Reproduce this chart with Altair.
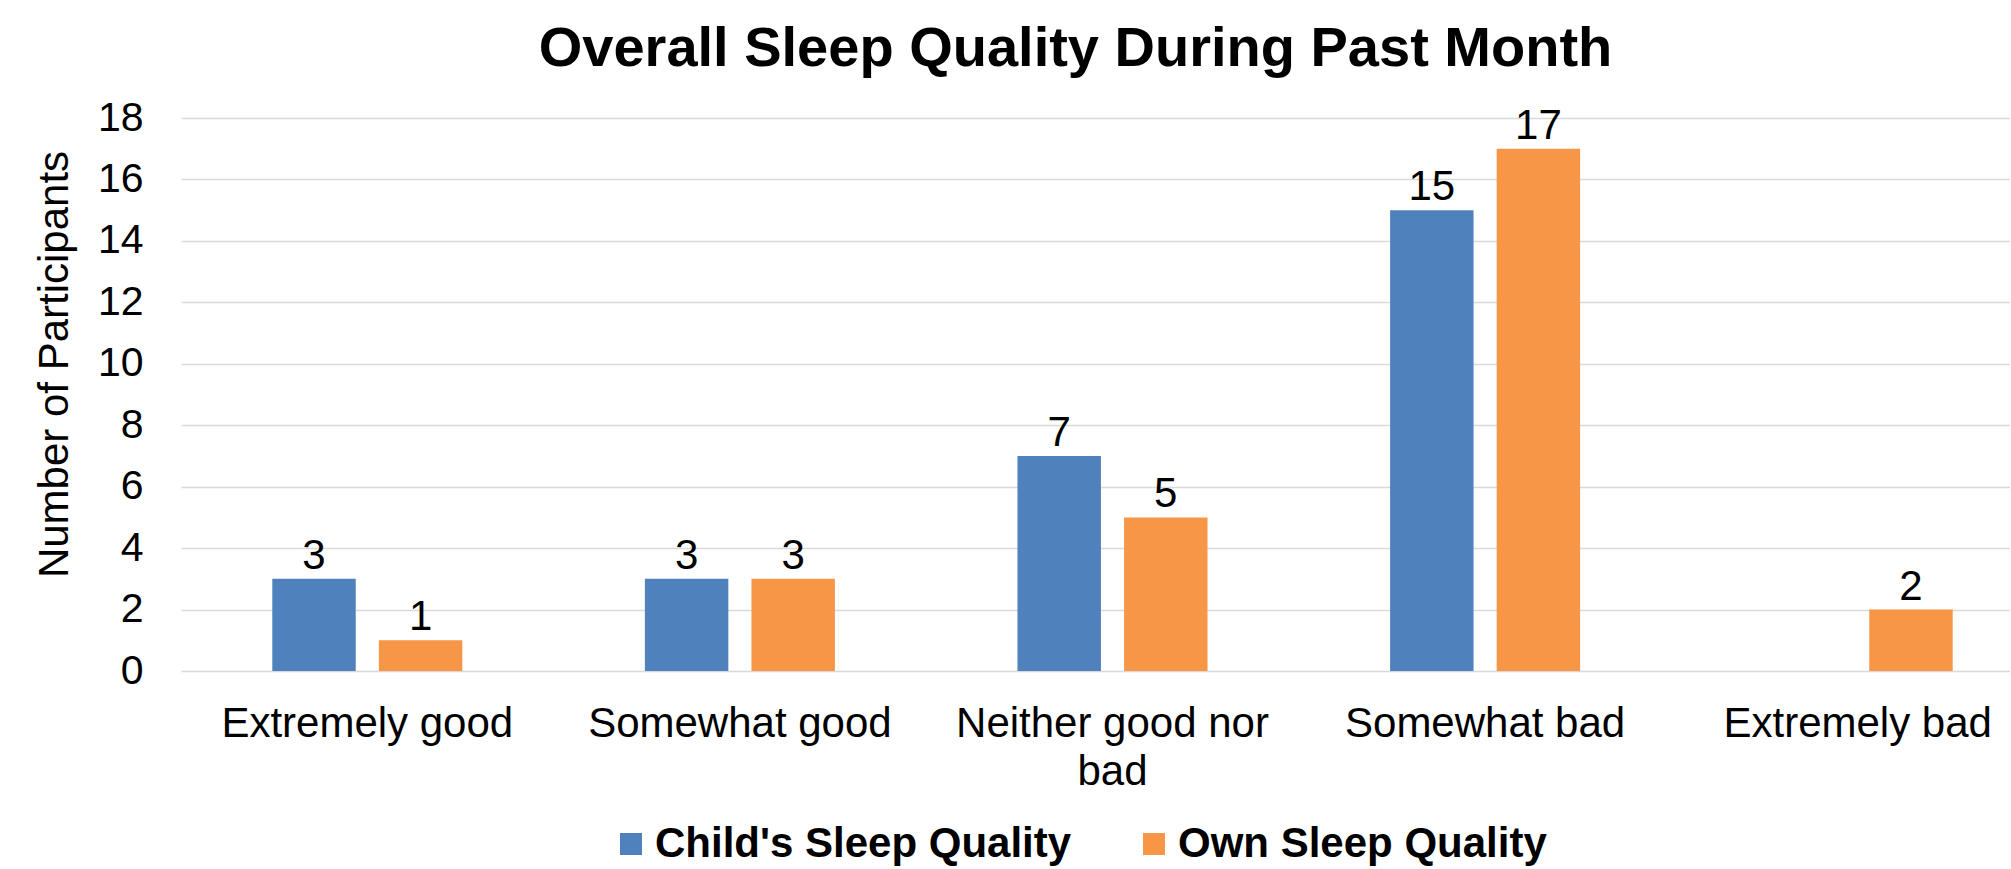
import altair as alt
import pandas as pd

# ---- data ----
categories = ["Extremely good", "Somewhat good", "Neither good nor bad", "Somewhat bad", "Extremely bad"]
series = ["Child's Sleep Quality", "Own Sleep Quality"]
child_values = [3, 3, 7, 15, None]
own_values = [1, 3, 5, 17, 2]
colors = ["#4F81BD", "#F79646"]
y_ticks = [0, 2, 4, 6, 8, 10, 12, 14, 16, 18]
title_text = "Overall Sleep Quality During Past Month"
y_title = "Number of Participants"

rows = []
for cat, c, o in zip(categories, child_values, own_values):
    if c is not None:
        rows.append({"category": cat, "series": series[0], "value": c})
    if o is not None:
        rows.append({"category": cat, "series": series[1], "value": o})
df = pd.DataFrame(rows)

FONT = "Liberation Sans"

x_enc = alt.X(
    "category:N",
    sort=categories,
    scale=alt.Scale(domain=categories, range=[0, 1863], paddingInner=0.49, paddingOuter=0.245),
    axis=alt.Axis(
        title=None,
        labelFontSize=42,
        labelFont=FONT,
        labelColor="black",
        labelAngle=0,
        labelPadding=65,
        labelBaseline="alphabetic",
        labelLineHeight=48,
        labelLimit=0,
        domain=False,
        ticks=False,
        tickSize=0,
        grid=False,
        labelExpr="datum.value == 'Neither good nor bad' ? ['Neither good nor', 'bad'] : datum.value",
    ),
)

xoff_enc = alt.XOffset(
    "series:N",
    sort=series,
    scale=alt.Scale(domain=series, paddingInner=0.217, paddingOuter=0),
)

y_enc = alt.Y(
    "value:Q",
    scale=alt.Scale(domain=[0, 18], nice=False),
    axis=alt.Axis(
        values=y_ticks,
        title=y_title,
        titleFontSize=42,
        titleFont=FONT,
        titleFontWeight="normal",
        titleColor="black",
        titleAngle=270,
        titleX=-114,
        titleY=246,
        titleAlign="center",
        titleBaseline="alphabetic",
        labelFontSize=41,
        labelFont=FONT,
        labelColor="black",
        labelPadding=38,
        domain=False,
        ticks=False,
        tickSize=0,
        grid=True,
        gridColor="#D9D9D9",
        gridWidth=1.5,
    ),
)

color_enc = alt.Color(
    "series:N",
    sort=series,
    scale=alt.Scale(domain=series, range=colors),
    legend=alt.Legend(
        title=None,
        orient="none",
        legendX=429,
        legendY=705,
        direction="horizontal",
        symbolType="square",
        symbolSize=484,
        symbolStrokeWidth=0,
        symbolOpacity=1,
        labelFontSize=42,
        labelFont=FONT,
        labelFontWeight="bold",
        labelColor="black",
        labelOffset=3,
        columnPadding=61,
        labelLimit=0,
    ),
)

bars = alt.Chart(df).mark_bar().encode(x=x_enc, xOffset=xoff_enc, y=y_enc, color=color_enc)

labels = alt.Chart(df).mark_text(
    dy=-10, baseline="alphabetic", align="center", fontSize=42, font=FONT, color="black"
).encode(x=x_enc, xOffset=xoff_enc, y=y_enc, text="value:Q")

chart = (
    alt.layer(bars, labels)
    .properties(
        width=1829,
        height=553,
        title=alt.TitleParams(
            title_text, fontSize=56, font=FONT, fontWeight="bold", color="black",
            anchor="middle", dx=-20, dy=-15
        ),
        autosize=alt.AutoSizeParams(type="none"),
        padding={"left": 181, "top": 118, "right": 0, "bottom": 198},
    )
    .configure_view(stroke=None)
)

chart.save("out.html", embed_options={"renderer": "svg", "actions": False})
